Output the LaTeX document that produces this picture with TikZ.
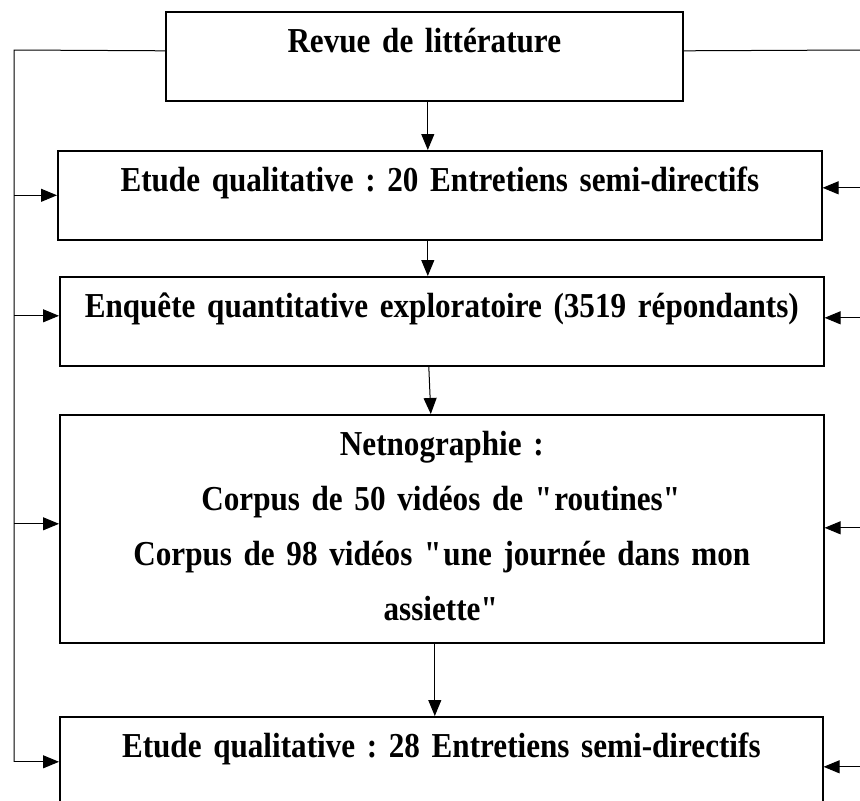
\documentclass[tikz,border=0pt]{standalone}
\usepackage{fontspec}
\setmainfont{Liberation Serif}[FakeStretch=0.89]
\usetikzlibrary{arrows.meta}

\begin{document}
\frenchspacing
\begin{tikzpicture}[x=1pt,y=-1pt,
  etape/.style={draw,line width=1.6pt,inner sep=0pt,anchor=north west,align=center,
    text height=41pt,text depth=48pt,font=\fontsize{35}{55}\selectfont\bfseries},
  fleche/.style={line width=1pt,-{Triangle[length=16pt,width=13pt]}},
  lien/.style={line width=1pt}]
\useasboundingbox (0,0) rectangle (860,801);
\node[etape,text width=517pt] (1) at (165,11) {Revue de littérature};
\node[etape,text width=764pt] (2) at (57,150) {Etude qualitative : 20 Entretiens semi-directifs};
\node[etape,text width=764pt] (3) at (59,276) {Enquête quantitative exploratoire (3519 répondants)};
\node[etape,text width=764pt,text depth=187pt] (4) at (59,414) {Netnographie :\\
Corpus de 50 vidéos de \textquotedbl routines\textquotedbl\\
Corpus de 98 vidéos \textquotedbl une journée dans mon\\
assiette\textquotedbl};
\node[etape,text width=763pt,text depth=49pt] (5) at (59,716) {Etude qualitative : 28 Entretiens semi-directifs};
\coordinate (g) at (14,50);
\coordinate (d) at (862,50);
\path[draw,fleche] ([xshift=3.5pt]1.south) -- ([xshift=3.5pt]1.south |- 2.north);
\path[draw,fleche] ([xshift=-12pt]2.south) -- ([xshift=-12pt]2.south |- 3.north);
\path[draw,fleche] ([xshift=-13pt]3.south) -- ([xshift=-11pt]4.north);
\path[draw,fleche] ([xshift=-7pt]4.south) -- ([xshift=-7pt]4.south |- 5.north);
\path[draw,lien] ([yshift=5.5pt]1.west) -- (g) -- (g |- 5.west);
\path[draw,lien] ([yshift=5.5pt]1.east) -- (d) -- (d |- 5.east);
\path[draw,fleche] (g |- 2.west) -- (2.west);
\path[draw,fleche] ([yshift=5.5pt]g |- 3.west) -- ([yshift=5.5pt]3.west);
\path[draw,fleche] ([yshift=5pt]g |- 4.west) -- ([yshift=5pt]4.west);
\path[draw,fleche] (g |- 5.west) -- (5.west);
\path[draw,fleche] ([yshift=7.5pt]d |- 2.east) -- ([yshift=7.5pt]2.east);
\path[draw,fleche] ([yshift=3.5pt]d |- 3.east) -- ([yshift=3.5pt]3.east);
\path[draw,fleche] ([yshift=1pt]d |- 4.east) -- ([yshift=1pt]4.east);
\path[draw,fleche] ([yshift=-5pt]d |- 5.east) -- ([yshift=-5pt]5.east);
\end{tikzpicture}
\end{document}
